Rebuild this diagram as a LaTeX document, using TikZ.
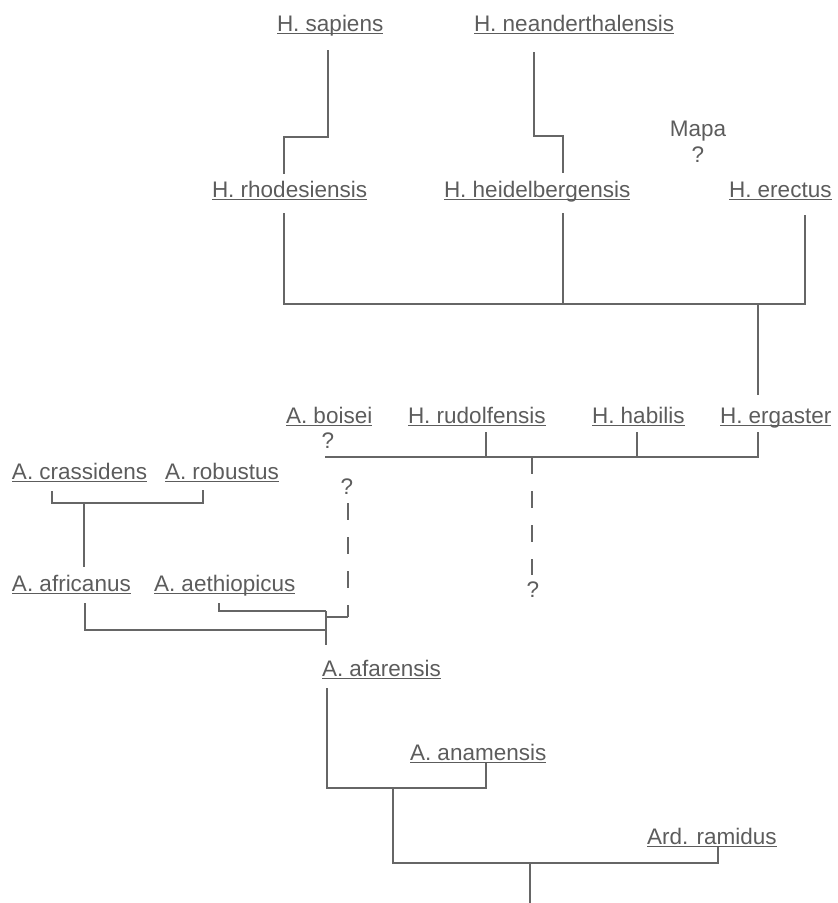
\documentclass[tikz,border=0pt]{standalone}
\usepackage{fontspec}
\newfontfamily\taxonfont{Liberation Sans}
\definecolor{ink}{gray}{0.36}
\definecolor{rulegray}{gray}{0.40}
\tikzset{
  taxon/.style={anchor=base west,
    append after command={([yshift=-2.2pt]\tikzlastnode.base west)
      edge[draw=ink, line width=1.2pt] ([yshift=-2.2pt]\tikzlastnode.base east)}},
  note/.style={anchor=base},
  branch/.style={draw=rulegray, line width=1.25pt},
  guess/.style={branch, dash pattern=on 17pt off 17pt}
}
\begin{document}
\begin{tikzpicture}[x=1pt, y=-1pt,
  every node/.style={inner sep=0pt, outer sep=0pt, text=ink,
    font=\taxonfont\fontsize{22.5}{26}\selectfont}]
\useasboundingbox (0,0) rectangle (838,903);

% ---- Homo, upper part
\node[taxon] (sap) at (277,31) {H. sapiens\ };
\node[taxon] (nea) at (474,31) {H. neanderthalensis};
\node[note]  (mapa) at (698,136) {Mapa};
\node[note]  (mapaq) at (698,162) {?};
\node[taxon] (rho) at (212,197) {H. rhodesiensis\ };
\node[taxon] (hei) at (444,197) {H. heidelbergensis};
\node[taxon] (ere) at (729,197) {H. erectus};

% ---- early Homo and robust forms
\node[taxon] (boi) at (286,423) {A. boisei};
\node[note]  (boiq) at (328,448) {?};
\node[taxon] (rud) at (408,423) {H. rudolfensis};
\node[taxon] (hab) at (592,423) {H. habilis};
\node[taxon] (erg) at (720,423) {H. ergaster};
\node[taxon] (cra) at (12,479) {A. crassidens};
\node[taxon] (rob) at (165,479) {A. robustus};
\node[note]  (dq)  at (347,494) {?};
\node[taxon] (afr) at (12,591) {A. africanus};
\node[taxon] (aet) at (154,591) {A. aethiopicus};
\node[note]  (rudq) at (533,597) {?};

% ---- basal forms
\node[taxon] (afa) at (322,676) {A. afarensis};
\node[taxon] (ana) at (410,760) {A. anamensis};
\node[taxon] (ard) at (647,844) {Ard. ramidus};

% ---- branch points and stem ends
\coordinate (sap-stem) at (328,50);
\coordinate (sap-knee) at (328,137);
\coordinate (rho-top)  at (284,174);
\coordinate (nea-stem) at (534,52);
\coordinate (nea-knee) at (534,136);
\coordinate (hei-top)  at (563,173);
\coordinate (rho-stem) at (284,213);
\coordinate (hei-stem) at (563,213);
\coordinate (ere-stem) at (805,215);
\coordinate (homo-join) at (758,304);
\coordinate (erg-top)  at (758,395);

\coordinate (early-left) at (325,457);
\coordinate (erg-stem) at (758,432);
\coordinate (rud-stem) at (486,432);
\coordinate (hab-stem) at (637,432);
\coordinate (rudq-drop) at (532,575);

\coordinate (cra-stem) at (52,491);
\coordinate (rob-stem) at (203,490);
\coordinate (robust-join) at (84,503);
\coordinate (afr-top)  at (84,567);
\coordinate (dq-top)   at (348,503);
\coordinate (dq-bottom) at (348,617);
\coordinate (aet-stem) at (219,603);
\coordinate (afr-stem) at (85,603);
\coordinate (aus-fork) at (326,611);
\coordinate (aus-low)  at (326,630);
\coordinate (afa-top)  at (326,645);

\coordinate (afa-stem) at (327,688);
\coordinate (afa-join) at (393,788);
\coordinate (ana-stem) at (486,763);
\coordinate (root)     at (530,863);
\coordinate (ard-stem) at (718,847);
\coordinate (root-base) at (530,903);

% ---- connectors
\draw[branch] (sap-stem) -- (sap-knee) -| (rho-top);
\draw[branch] (nea-stem) -- (nea-knee) -| (hei-top);
\draw[branch] (rho-stem) |- (homo-join) -| (ere-stem);
\draw[branch] (hei-stem) -- (hei-stem |- homo-join);
\draw[branch] (homo-join) -- (erg-top);

\draw[branch] (early-left) -| (erg-stem);
\draw[branch] (rud-stem) -- (rud-stem |- early-left);
\draw[branch] (hab-stem) -- (hab-stem |- early-left);
\draw[guess]  (rudq-drop |- early-left) -- (rudq-drop);

\draw[branch] (cra-stem) |- (robust-join) -| (rob-stem);
\draw[branch] (robust-join) -- (afr-top);
\draw[guess]  (dq-top) -- (dq-bottom);
\draw[branch] (dq-bottom) -- (aus-fork |- dq-bottom);
\draw[branch] (aet-stem) |- (aus-fork);
\draw[branch] (afr-stem) |- (aus-low);
\draw[branch] (aus-fork) -- (afa-top);

\draw[branch] (afa-stem) |- (afa-join) -| (ana-stem);
\draw[branch] (afa-join) |- (root) -| (ard-stem);
\draw[branch] (root) -- (root-base);
\end{tikzpicture}
\end{document}
